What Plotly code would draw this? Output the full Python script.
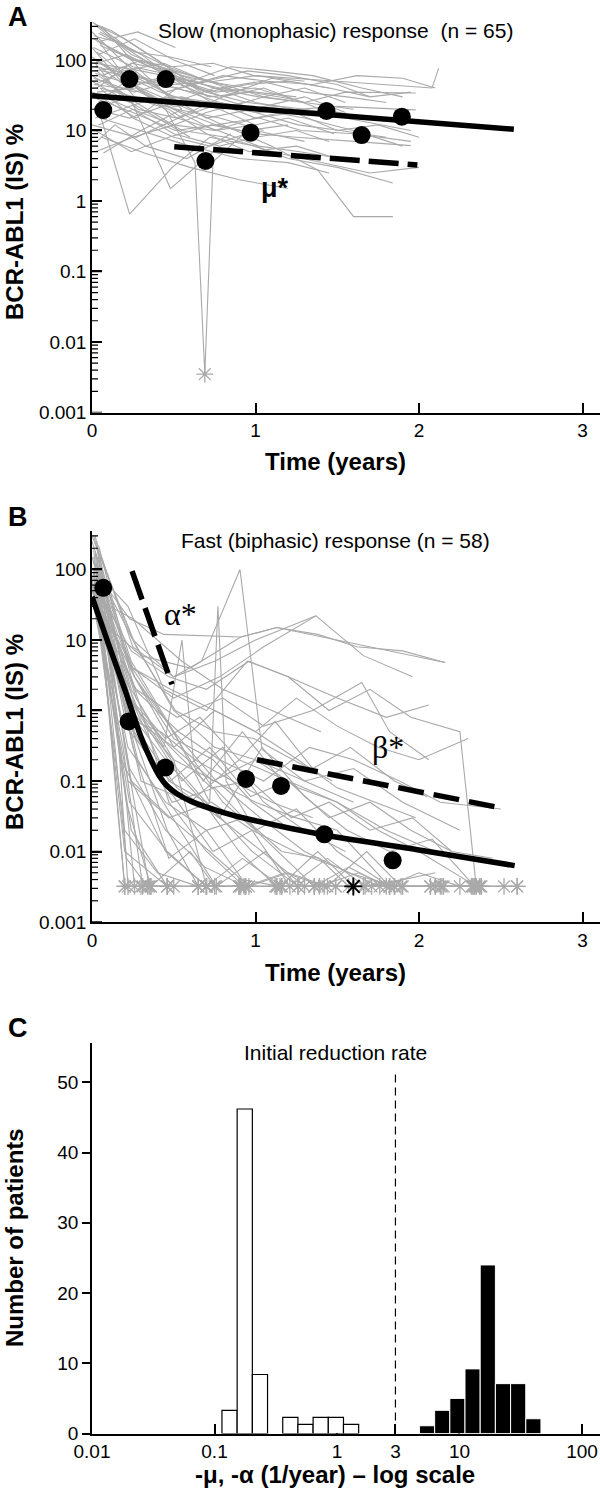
import numpy as np
import plotly.graph_objects as go

U = 0.0032  # undetectable BCR-ABL1 level (plotted as asterisks)

# ---------------- Panel A : slow (monophasic) responders ----------------
slow_times = [
    [0.02, 0.25, 0.5, 0.75, 1.0, 1.5, 2.08, 2.12],
    [0.03, 0.24, 0.48, 0.74, 1.02, 1.3, 1.55, 1.98],
    [0.0, 0.23, 0.5, 0.77, 1.01, 1.26, 1.5, 1.98],
    [0.05, 0.26, 0.51, 0.76, 1.0, 1.25, 1.6, 1.95],
    [0.02, 0.25, 0.5, 0.8, 1.1, 1.38, 1.6, 1.84],
    [0.04, 0.23, 0.49, 0.72, 1.0, 1.2, 1.5, 1.84],
    [0.03, 0.22, 0.45, 0.63, 0.69, 0.74, 0.95, 1.2],
    [0.01, 0.25, 0.5, 0.75, 1.0, 1.25],
    [0.05, 0.27, 0.52, 0.78, 1.03],
    [0.0, 0.2, 0.48, 0.7, 0.98, 1.3, 1.55],
    [0.06, 0.3, 0.55, 0.8, 1.05, 1.4, 1.7],
    [0.02, 0.24, 0.47, 0.73, 1.0],
    [0.04, 0.26, 0.5, 0.75],
    [0.01, 0.25, 0.5, 0.76, 1.0, 1.24, 1.5, 1.75, 2.0],
    [0.03, 0.28, 0.52, 0.8, 1.1, 1.45],
    [0.0, 0.22, 0.46, 0.7, 0.95, 1.2, 1.5, 1.7],
    [0.05, 0.3, 0.6, 0.9, 1.2, 1.45],
    [0.02, 0.18, 0.4, 0.6],
    [0.04, 0.25, 0.5, 0.75, 1.0, 1.3, 1.6, 1.9],
    [0.01, 0.24, 0.49, 0.74, 0.99, 1.3],
    [0.03, 0.27, 0.52, 0.77, 1.02, 1.27, 1.52],
    [0.06, 0.3, 0.55],
    [0.02, 0.25, 0.5, 0.75, 1.0, 1.25, 1.5],
    [0.05, 0.22, 0.45, 0.7, 0.95, 1.3, 1.55, 1.95],
    [0.0, 0.26, 0.52, 0.78, 1.05],
    [0.03, 0.24, 0.47, 0.71],
    [0.04, 0.27, 0.55, 0.82, 1.1, 1.4, 1.7, 2.0],
    [0.02, 0.23, 0.5, 0.75, 1.0, 1.24],
    [0.05, 0.3, 0.55, 0.8, 1.05, 1.3],
    [0.01, 0.2, 0.45, 0.7, 0.95],
    [0.04, 0.25, 0.5, 0.78, 1.0, 1.25, 1.45],
    [0.02, 0.27, 0.53, 0.8, 1.07, 1.35, 1.62, 1.9, 2.1],
    [0.03, 0.28, 0.51],
    [0.06, 0.32, 0.6, 0.9, 1.2],
    [0.0, 0.23, 0.48, 0.74],
    [0.05, 0.26, 0.5, 0.76, 1.0, 1.3, 1.6],
    [0.07, 0.3, 0.55],
    [0.02, 0.3, 0.6, 0.85, 1.1, 1.35, 1.65, 1.9],
    [0.01, 0.15, 0.35, 0.55, 0.8],
    [0.03, 0.2, 0.42, 0.62, 0.9, 1.15],
    [0.0, 0.25, 0.5, 0.7, 0.92],
    [0.05, 0.22, 0.5, 0.8, 1.05, 1.3, 1.55],
    [0.02, 0.3, 0.55, 0.78, 1.0, 1.2, 1.48],
    [0.04, 0.2, 0.4, 0.65],
    [0.01, 0.26, 0.49, 0.72, 0.97, 1.22],
    [0.06, 0.28, 0.5, 0.74, 1.0, 1.26, 1.52, 1.8],
    [0.0, 0.24, 0.45],
    [0.03, 0.25, 0.51, 0.76, 1.02, 1.28, 1.6, 1.95],
    [0.02, 0.19, 0.44, 0.66, 0.9],
    [0.05, 0.3, 0.52, 0.78, 1.04, 1.3, 1.56, 1.8],
    [0.01, 0.23, 0.47, 0.7, 0.96, 1.25, 1.5],
    [0.04, 0.26, 0.48, 0.73],
    [0.02, 0.24, 0.5, 0.75, 1.0],
    [0.03, 0.21, 0.46, 0.7, 0.95, 1.2, 1.45, 1.7, 1.95],
    [0.0, 0.27, 0.53, 0.8],
    [0.05, 0.25, 0.5, 0.72, 1.0, 1.3],
    [0.01, 0.12, 0.3, 0.5],
    [0.03, 0.14, 0.33, 0.58, 0.85],
]
slow_values = [
    [80, 60, 45, 50, 60, 50, 40, 76],
    [300, 120, 70, 40, 30, 25, 35, 34],
    [50, 25, 30, 22, 18, 20, 22, 19.6],
    [40, 30, 20, 12, 9, 8, 7, 6.1],
    [100, 45, 25, 12, 6, 2.75, 0.6, 0.6],
    [20, 0.65, 3, 8, 6, 4, 3, 1.8],
    [200, 50, 20, 3.5, 0.0035, 3.6, 10, 12],
    [150, 80, 60, 40, 35, 30],
    [30, 15, 40, 25, 20],
    [250, 90, 30, 15, 20, 30, 18],
    [60, 100, 50, 30, 40, 20, 15],
    [10, 5, 8, 12, 9],
    [120, 200, 100, 60],
    [45, 38, 22, 25, 15, 18, 10, 12, 8],
    [70, 20, 15, 30, 55, 40],
    [350, 150, 80, 50, 70, 60, 45, 30],
    [15, 10, 6, 4, 3.5, 2.5],
    [90, 30, 15, 8],
    [25, 60, 40, 30, 20, 15, 10, 6],
    [200, 100, 80, 90, 60, 50],
    [35, 40, 15, 10, 6, 5, 4],
    [300, 70, 20],
    [5, 8, 12, 10, 15, 20, 18],
    [80, 40, 60, 35, 25, 20, 15, 10],
    [150, 30, 20, 15, 10],
    [40, 90, 70, 30],
    [60, 25, 10, 8, 5, 3.5, 2.5, 3],
    [20, 15, 25, 40, 25, 20],
    [250, 120, 45, 20, 30, 25],
    [70, 80, 35, 50, 40],
    [12, 20, 9, 6, 8, 10, 7],
    [100, 50, 40, 60, 50, 45, 60, 55, 40],
    [180, 250, 150],
    [8, 4.8, 3, 2, 1.5],
    [60, 30, 1.5, 5],
    [30, 45, 55, 35, 40, 25, 20],
    [4.8, 10, 20],
    [90, 70, 50, 80, 70, 60, 40, 30],
    [220, 180, 90, 60, 45],
    [130, 60, 35, 25, 20, 22],
    [35, 20, 12, 18, 25],
    [180, 110, 70, 45, 30, 40, 25],
    [15, 25, 30, 20, 12, 15, 9],
    [300, 200, 100, 40],
    [55, 35, 50, 30, 35, 28],
    [70, 55, 30, 25, 18, 12, 10, 8],
    [110, 45, 25],
    [28, 18, 10, 12, 15, 10, 9, 7],
    [45, 70, 90, 55, 35],
    [160, 90, 55, 40, 50, 35, 30, 25],
    [20, 30, 20, 9, 5, 6, 4],
    [240, 130, 110, 80],
    [65, 45, 20, 10, 12],
    [90, 120, 60, 35, 45, 50, 40, 30, 35],
    [12, 8, 15, 25],
    [40, 15, 8, 6, 10, 7],
    [330, 260, 140, 70],
    [7, 12, 6, 4, 9],
]
slow_undetect_t = [0.69]
slow_undetect_v = [0.0035]
slow_fit_t = [0.0, 2.58]
slow_fit_v = [31.0, 10.4]
mu_t = [0.503, 1.99]
mu_v = [5.9, 3.25]
slow_mean_t = [0.069, 0.229, 0.451, 0.694, 0.970, 1.434, 1.649, 1.895]
slow_mean_v = [19.5, 53.7, 53.7, 3.69, 9.3, 18.9, 8.6, 15.7]

# ---------------- Panel B : fast (biphasic) responders ----------------
fast_times = [
    [0.01, 0.2, 0.3, 0.46],
    [0.03, 0.25, 0.46, 0.65, 0.9, 1.13],
    [0.02, 0.21, 0.47, 0.7, 0.98, 1.26, 1.49],
    [0.0, 0.24, 0.5, 0.75, 1.0, 1.25, 1.5, 1.82, 2.07],
    [0.03, 0.25, 0.5, 0.67, 0.905, 1.04, 1.3, 1.6],
    [0.02, 0.26, 0.5, 0.72, 0.77, 0.82, 1.0, 1.36],
    [0.01, 0.23, 0.44, 0.91, 1.13, 2.16],
    [0.04, 0.25, 0.5, 0.75, 1.0, 1.37],
    [0.02, 0.27, 0.52, 0.8, 1.05, 1.35, 1.65, 1.82, 2.06],
    [0.03, 0.2, 0.36, 0.6, 0.75],
    [0.0, 0.22, 0.45, 0.7, 0.93, 1.16, 1.39, 1.57, 1.85],
    [0.05, 0.26, 0.5, 0.74, 1.0, 1.26, 1.5, 1.75, 2.0, 2.35],
    [0.01, 0.24, 0.48, 0.72, 0.96, 1.2, 1.44, 1.68, 1.89, 2.14, 2.38, 2.6],
    [0.02, 0.25, 0.48, 0.75, 1.0, 1.25, 1.5, 1.75, 2.0, 2.3],
    [0.04, 0.3, 0.55, 0.8, 1.05, 1.3, 1.55],
    [0.03, 0.21, 0.36, 0.65, 0.9, 1.16],
    [0.0, 0.25, 0.5, 0.75, 1.0, 1.3, 1.6, 1.9, 2.25],
    [0.06, 0.27, 0.5, 0.7, 0.91],
    [0.02, 0.24, 0.47, 0.7, 0.96, 1.2, 1.45, 1.7, 1.95, 2.25, 2.35],
    [0.01, 0.2, 0.46],
    [0.04, 0.26, 0.49, 0.75, 1.0, 1.25, 1.5, 1.82, 2.07, 2.32],
    [0.03, 0.22, 0.45, 0.68, 0.9, 1.13, 1.36, 1.57, 1.8, 2.0, 2.25, 2.52],
    [0.05, 0.25, 0.55, 0.8, 1.1, 1.4],
    [0.02, 0.3, 0.6, 0.9, 1.2, 1.5, 1.8, 2.1],
    [0.0, 0.24, 0.5, 0.76, 1.03, 1.3, 1.57, 1.85, 2.13, 2.38],
    [0.04, 0.28, 0.54, 0.76, 1.06, 1.26, 1.49, 1.71, 2.1],
    [0.01, 0.22, 0.44, 0.7, 0.95, 1.2, 1.5, 1.8, 2.06],
    [0.03, 0.26, 0.53, 0.78, 1.05, 1.33, 1.6, 1.88, 2.13, 2.5],
    [0.02, 0.23, 0.46, 0.7, 0.92, 1.16, 1.39, 1.63, 1.82, 2.1, 2.33, 2.6],
    [0.05, 0.27, 0.51, 0.75, 0.99, 1.23, 1.47],
    [0.0, 0.2, 0.4, 0.65, 0.9, 1.12, 1.36, 1.6],
    [0.03, 0.25, 0.5, 0.75, 1.0, 1.26, 1.5, 1.73, 1.98],
    [0.01, 0.24, 0.47, 0.7, 0.93],
    [0.04, 0.3, 0.6, 0.91, 1.13, 1.38, 1.62, 1.9, 2.16],
    [0.02, 0.25, 0.5, 0.78, 1.05, 1.37, 1.66, 1.96],
    [0.03, 0.2, 0.35, 0.5, 0.7],
    [0.01, 0.26, 0.52, 0.78, 1.04, 1.3, 1.56, 1.82, 2.08, 2.34],
    [0.05, 0.23, 0.45, 0.66, 0.9, 1.12, 1.35, 1.58, 1.85, 2.05],
    [0.02, 0.15, 0.22],
    [0.01, 0.21, 0.26],
    [0.03, 0.18, 0.45, 0.7, 0.94],
    [0.0, 0.22, 0.47, 0.73, 0.98, 1.24, 1.5, 1.76],
    [0.04, 0.26, 0.5, 0.74, 0.98, 1.22],
    [0.02, 0.23, 0.48, 0.72, 0.97, 1.2, 1.45, 1.7, 1.95, 2.2],
    [0.01, 0.24, 0.46, 0.7],
    [0.05, 0.25, 0.47, 0.7, 0.92, 1.15, 1.38, 1.6, 1.85, 2.1, 2.33],
    [0.03, 0.2, 0.42, 0.63, 0.86, 1.1, 1.35],
    [0.0, 0.26, 0.52, 0.78, 1.04, 1.3],
    [0.02, 0.27, 0.5, 0.74, 0.98, 1.21, 1.44, 1.67, 1.9, 2.15, 2.37],
    [0.04, 0.22, 0.44, 0.68, 0.92, 1.16],
    [0.01, 0.23, 0.45, 0.69, 0.94, 1.18, 1.42, 1.66, 1.9],
    [0.03, 0.25, 0.48, 0.73, 0.97, 1.22, 1.45, 1.7, 1.96, 2.2, 2.45],
    [0.02, 0.21, 0.34],
    [0.0, 0.19, 0.31],
    [0.04, 0.24, 0.44, 0.55, 0.62, 0.8, 1.0],
]
fast_values = [
    [200, U, U, U],
    [80, 0.5, 0.02, U, U, U],
    [300, 2, 0.1, 0.05, 0.01, U, U],
    [50, 1, 0.2, 0.1, 0.05, 0.03, 0.02, U, U],
    [100, 10, 3, 5, 100, 0.28, 0.1, 0.05],
    [40, 3, 0.5, 0.05, 30, 0.1, 0.02, U],
    [100, 20, 12, 11, 15, 4.8],
    [200, 8, 3, 5, 10, 22],
    [30, 2, 0.8, 1.5, 0.6, 1, 2.5, 0.5, 0.2],
    [100, U, U, 0.01, U],
    [70, 0.3, 0.05, 0.02, 0.03, 0.01, 0.008, U, U],
    [90, 3, 0.3, 0.1, 0.2, 0.08, 0.05, 0.02, 0.01, U],
    [150, 0.1, 0.03, 0.01, U, 0.005, U, 0.01, U, U, U, U],
    [40, 4, 2, 1, 0.5, 1.5, 0.6, 0.3, 0.2, 0.4],
    [25, 0.8, 0.1, 0.3, 0.05, 0.02, 0.01],
    [120, 0.05, U, U, U, U],
    [300, 10, 1, 0.3, 0.2, 0.1, 0.15, 0.05, 0.02],
    [50, 1.5, 0.2, U, U],
    [60, 7, 3, 2, 5, 3, 1, 2, 0.8, 0.5, U],
    [90, 0.01, U],
    [80, 0.5, 0.05, 0.08, 0.02, 0.04, 0.01, U, U, U],
    [200, 1, 0.2, 0.05, 0.01, U, U, 0.006, U, 0.005, U, U],
    [35, 20, 5, 2, 1, 0.5],
    [70, 0.1, 0.05, 0.2, 0.1, 0.05, 0.02, 0.01],
    [250, 5, 0.5, 0.1, 0.03, 0.01, 0.005, U, U, U],
    [45, 0.2, 0.02, U, 0.01, U, U, U, 0.005],
    [100, 30, 2, 1, 5, 3, 1.5, 0.8, 1.2],
    [60, 2, 0.5, 0.2, 0.1, 0.3, 0.2, 0.1, 0.05, 0.04],
    [30, 0.05, 0.01, U, 0.008, U, U, 0.005, U, U, U, U],
    [150, 8, 1, 0.5, 0.4, 0.2, 0.1],
    [80, 0.02, 0.005, U, U, U, U, U],
    [40, 0.8, 0.3, 1, 0.5, 0.2, 0.08, 0.05, 0.03],
    [300, 3, 0.05, 0.01, U],
    [20, 6, 4, 11, 15, 12, 8, 7, 4.8],
    [100, 4, 1.5, 3, 8, 22, 6, 3],
    [150, 0.3, U, U, U],
    [60, 0.6, 0.08, 0.03, 0.3, 0.06, 0.02, 0.01, 0.015, U],
    [110, 1.5, 0.4, 0.8, 0.2, 0.7, 0.15, 0.3, 0.1, 0.06],
    [120, 1, U],
    [80, 0.05, U],
    [250, 0.2, 0.01, U, U],
    [40, 0.1, 0.03, 0.05, 0.02, 0.01, 0.006, U],
    [60, 3, 0.4, 0.2, 0.05, 0.02],
    [180, 0.5, 0.1, 0.3, 0.06, 0.1, 0.03, 0.05, 0.02, 0.01],
    [90, 0.02, U, U],
    [50, 0.3, 0.008, 0.02, 0.004, U, 0.01, U, U, U, U],
    [70, 0.8, 0.5, 0.2, 0.1, 0.05, 0.03],
    [150, 1.2, 0.15, 0.03, 0.01, U],
    [30, 0.4, 0.06, 0.01, 0.02, U, 0.008, U, U, U, U],
    [220, 5, 0.8, 0.1, 0.5, 0.1],
    [100, 0.15, 0.02, 0.006, U, 0.005, U, U, 0.004],
    [45, 1.2, 0.3, 0.08, 0.1, 0.03, 0.05, 0.02, 0.03, 0.01, 0.008],
    [170, 0.008, U],
    [60, 0.3, U],
    [90, 2, 0.3, 10, 0.2, 0.05, 0.02],
]
fast_fit_t = [0.0, 0.1, 0.2, 0.3, 0.36, 0.41, 0.46, 0.52, 0.61, 0.8, 0.98, 1.43, 2.0, 2.585]
fast_fit_v = [41, 8.9, 2.0, 0.42, 0.2, 0.12, 0.085, 0.066, 0.051, 0.036, 0.028, 0.017, 0.0105, 0.0063]
alpha_t = [0.245, 0.489]
alpha_v = [94.6, 2.34]
beta_t = [1.009, 2.49]
beta_v = [0.2, 0.042]
fast_mean_t = [0.069, 0.224, 0.448, 0.942, 1.156, 1.421, 1.839]
fast_mean_v = [55, 0.70, 0.155, 0.107, 0.085, 0.0175, 0.0075]
mean_undetect_t = [1.598]
mean_undetect_v = [U]

# ---------------- Panel C : histogram of initial reduction rates ----------------
slow_bin_rates = [0.1327, 0.1766, 0.2350, 0.4159, 0.5534, 0.7362, 0.9795, 1.303]
slow_bin_counts = [3.3, 46.2, 8.4, 2.3, 1.3, 2.3, 2.3, 1.3]
fast_bin_rates = [5.43, 7.23, 9.62, 12.79, 17.02, 22.65, 30.13, 40.09]
fast_bin_counts = [1.1, 3.3, 5.0, 9.2, 24.0, 7.1, 7.1, 2.1]
bin_width_log = 0.124
threshold_rate = 3
hist_tick_vals = [0.01, 0.1, 1, 3, 10, 100]
hist_tick_text = ["0.01", "0.1", "1", "3", "10", "100"]

decade_vals = [0.001, 0.01, 0.1, 1, 10, 100]
decade_text = ["0.001", "0.01", "0.1", "1", "10", "100"]
minor_vals = [m * d for d in [0.001, 0.01, 0.1, 1, 10, 100] for m in range(2, 10)]

GREY = "#a9a9a9"
FONT = "Liberation Sans, Arial, Helvetica, sans-serif"
SERIF = "Liberation Serif, Times New Roman, serif"

H = 1497.0
W = 600.0
X_MAX_YEARS = 3.107
PX_PER_YEAR = (W - 92) / X_MAX_YEARS


def joined(ts, vs):
    X, Y = [], []
    for t, v in zip(ts, vs):
        X += list(t) + [None]
        Y += list(v) + [None]
    return X, Y


def tick_segments(vals, length_px):
    """Short horizontal tick segments drawn inward from the y axis at the given values."""
    X, Y = [], []
    L = length_px / PX_PER_YEAR
    for v in vals:
        X += [0, L, None]
        Y += [v, v, None]
    return X, Y


fig = go.Figure()
star_grey = dict(symbol="asterisk-open", size=14, color=GREY, line=dict(color=GREY, width=1.3))

# ---- Panel A traces
X, Y = joined(slow_times, slow_values)
fig.add_trace(go.Scatter(x=X, y=Y, mode="lines", line=dict(color=GREY, width=1.1),
                         xaxis="x", yaxis="y", hoverinfo="skip"))
fig.add_trace(go.Scatter(x=slow_undetect_t, y=slow_undetect_v, mode="markers", marker=star_grey,
                         xaxis="x", yaxis="y"))
fig.add_trace(go.Scatter(x=slow_fit_t, y=slow_fit_v, mode="lines", line=dict(color="black", width=5.5),
                         xaxis="x", yaxis="y"))
fig.add_trace(go.Scatter(x=mu_t, y=mu_v, mode="lines", line=dict(color="black", width=5.5, dash="30px,9px"),
                         xaxis="x", yaxis="y"))
fig.add_trace(go.Scatter(x=slow_mean_t, y=slow_mean_v, mode="markers",
                         marker=dict(color="black", size=18), xaxis="x", yaxis="y"))

# ---- Panel B traces
X, Y = joined(fast_times, fast_values)
fig.add_trace(go.Scatter(x=X, y=Y, mode="lines", line=dict(color=GREY, width=1.1),
                         xaxis="x2", yaxis="y2", hoverinfo="skip"))
ut, uv = [], []
for t, v in zip(fast_times, fast_values):
    for ti, vi in zip(t, v):
        if vi == U:
            ut.append(ti)
            uv.append(vi)
fig.add_trace(go.Scatter(x=ut, y=uv, mode="markers", marker=star_grey, xaxis="x2", yaxis="y2"))
fig.add_trace(go.Scatter(x=fast_fit_t, y=fast_fit_v, mode="lines",
                         line=dict(color="black", width=5.5, shape="spline", smoothing=0.6),
                         xaxis="x2", yaxis="y2"))
fig.add_trace(go.Scatter(x=alpha_t, y=alpha_v, mode="lines", line=dict(color="black", width=5.5, dash="30px,9px"),
                         xaxis="x2", yaxis="y2"))
fig.add_trace(go.Scatter(x=beta_t, y=beta_v, mode="lines", line=dict(color="black", width=5.5, dash="26px,10px"),
                         xaxis="x2", yaxis="y2"))
fig.add_trace(go.Scatter(x=fast_mean_t, y=fast_mean_v, mode="markers",
                         marker=dict(color="black", size=18), xaxis="x2", yaxis="y2"))
fig.add_trace(go.Scatter(x=mean_undetect_t, y=mean_undetect_v, mode="markers",
                         marker=dict(symbol="asterisk-open", size=15, color="black",
                                     line=dict(color="black", width=1.8)),
                         xaxis="x2", yaxis="y2"))

# ---- y-axis tick combs (major + minor) for the two log panels
for xa, ya in [("x", "y"), ("x2", "y2")]:
    tx, ty = tick_segments(minor_vals, 6)
    fig.add_trace(go.Scatter(x=tx, y=ty, mode="lines", line=dict(color="black", width=1.2),
                             xaxis=xa, yaxis=ya, hoverinfo="skip", cliponaxis=True))
    tx, ty = tick_segments(decade_vals, 10)
    fig.add_trace(go.Scatter(x=tx, y=ty, mode="lines", line=dict(color="black", width=1.5),
                             xaxis=xa, yaxis=ya, hoverinfo="skip", cliponaxis=True))

# ---- Panel C traces
fig.add_trace(go.Bar(x=np.log10(slow_bin_rates), y=slow_bin_counts, width=bin_width_log,
                     marker=dict(color="white", line=dict(color="black", width=1.2)),
                     xaxis="x3", yaxis="y3"))
fig.add_trace(go.Bar(x=np.log10(fast_bin_rates), y=fast_bin_counts, width=bin_width_log,
                     marker=dict(color="black", line=dict(color="white", width=1)),
                     xaxis="x3", yaxis="y3"))
fig.add_trace(go.Scatter(x=[np.log10(threshold_rate)] * 2, y=[0, 51.7], mode="lines",
                         line=dict(color="black", width=1.2, dash="8px,5px"), xaxis="x3", yaxis="y3"))


def ydom(top_px, bottom_px):
    return [1 - bottom_px / H, 1 - top_px / H]


base_x = dict(showline=True, linecolor="black", linewidth=1.5, showgrid=False, zeroline=False,
              ticks="inside", ticklen=10, tickwidth=1.5, tickcolor="black", automargin=False,
              tickfont=dict(family=FONT, size=19, color="black"), domain=[92 / W, 1.0])
base_y_log = dict(type="log", range=[-3, 2.543], showline=True, linecolor="black", linewidth=1.5,
                  showgrid=False, zeroline=False, ticks="inside", ticklen=10, tickwidth=1.5,
                  tickcolor="black", tickvals=decade_vals, ticktext=decade_text, automargin=False,
                  tickfont=dict(family=FONT, size=19, color="black"))

fig.update_layout(
    width=600, height=1497, margin=dict(l=0, r=0, t=0, b=0, autoexpand=False),
    plot_bgcolor="white", paper_bgcolor="white", showlegend=False, barmode="overlay",
    font=dict(family=FONT, color="black"),
    xaxis=dict(base_x, anchor="y", range=[0, X_MAX_YEARS], tickvals=[0, 1, 2, 3]),
    yaxis=dict(base_y_log, anchor="x", domain=ydom(21.7, 412.5)),
    xaxis2=dict(base_x, anchor="y2", range=[0, X_MAX_YEARS], tickvals=[0, 1, 2, 3]),
    yaxis2=dict(base_y_log, anchor="x2", domain=ydom(531.2, 922)),
    xaxis3=dict(base_x, anchor="y3", range=[-2, 2.147], tickvals=list(np.log10(hist_tick_vals)),
                ticktext=hist_tick_text, layer="below traces"),
    yaxis3=dict(anchor="x3", domain=ydom(1043, 1433.5), range=[0, 55.6], showline=True,
                linecolor="black", linewidth=1.5, showgrid=False, zeroline=False, ticks="outside",
                ticklen=8, tickwidth=1.5, tickcolor="black", tickvals=[0, 10, 20, 30, 40, 50],
                automargin=False, tickfont=dict(family=FONT, size=19, color="black")),
)


def ann(text, px, py, size, rot=0, bold=False, family=FONT):
    if bold:
        text = "<b>" + text + "</b>"
    fig.add_annotation(text=text, x=px / W, y=1 - py / H, xref="paper", yref="paper",
                       showarrow=False, textangle=rot, xanchor="center", yanchor="middle",
                       font=dict(family=family, size=size, color="black"))


ann("A", 18, 17, 27, bold=True)
ann("B", 18, 517, 27, bold=True)
ann("C", 18, 1028, 27, bold=True)
ann("Slow (monophasic) response  (n = 65)", 335, 30, 21)
ann("Fast (biphasic) response (n = 58)", 335, 540, 21)
ann("Initial reduction rate", 335, 1052, 21)
ann("Time (years)", 335, 462, 24, bold=True)
ann("Time (years)", 335, 972, 24, bold=True)
ann("-μ, -α (1/year) – log scale", 335, 1474, 24, bold=True)
ann("BCR-ABL1 (IS) %", 14, 222, 24, rot=-90, bold=True)
ann("BCR-ABL1 (IS) %", 14, 732, 24, rot=-90, bold=True)
ann("Number of patients", 14, 1238, 24, rot=-90, bold=True)

# fit-parameter labels placed in data coordinates
fig.add_annotation(text="<b>μ*</b>", x=1.12, y=np.log10(1.53), xref="x", yref="y", showarrow=False,
                   font=dict(family=FONT, size=27, color="black"))
fig.add_annotation(text="α*", x=0.54, y=np.log10(23), xref="x2", yref="y2", showarrow=False,
                   font=dict(family=SERIF, size=32, color="black"))
fig.add_annotation(text="β*", x=1.81, y=np.log10(0.3), xref="x2", yref="y2", showarrow=False,
                   font=dict(family=SERIF, size=32, color="black"))

fig.write_html("out.html", config={"displayModeBar": False},
               post_script="document.body.style.margin='0';document.body.style.overflow='hidden';")
